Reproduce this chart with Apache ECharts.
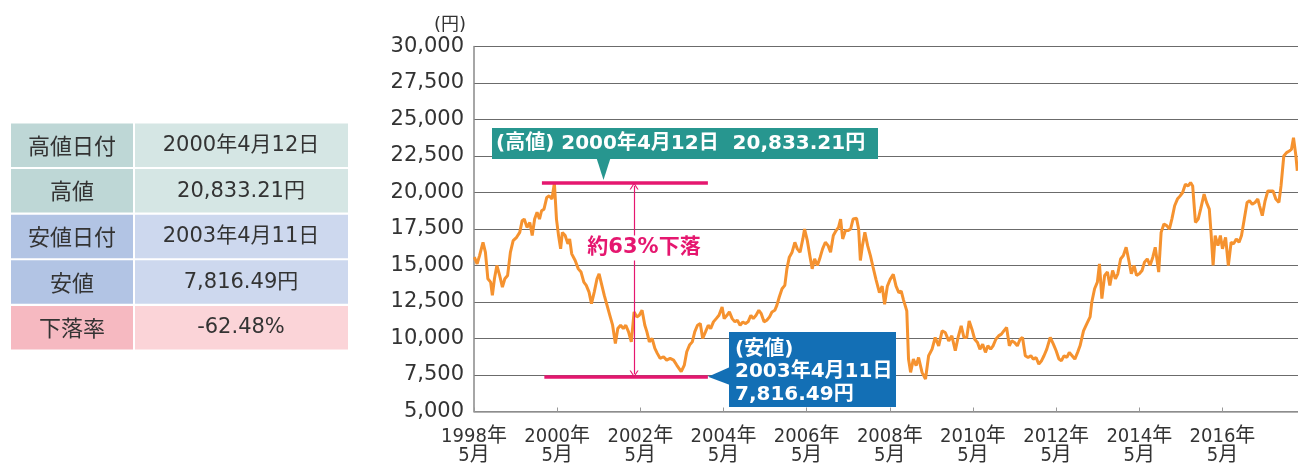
<!DOCTYPE html>
<html>
<head>
<meta charset="utf-8">
<script src="https://cdn.jsdelivr.net/npm/echarts@6/dist/echarts.min.js"></script>
<style>
  html, body { margin: 0; padding: 0; background: #fff; }
  #chart { width: 1298px; height: 468px; }
</style>
</head>
<body>
<div id="chart"></div>
<script>
  // x = months since 1998/5
  var months = [
    0.1, 0.9, 1.6, 2.6, 3.3, 4.0, 4.8, 5.3, 5.9, 6.6, 7.4, 8.2, 8.9, 9.7, 10.5, 11.3, 12.3, 13.2, 13.9, 14.5,
    15.3, 16.1, 16.8, 17.5, 18.2, 18.9, 19.5, 20.2, 21.0, 21.7, 22.5, 23.2, 23.8, 24.4, 25.0, 25.5, 26.3, 27.1, 27.6, 28.2,
    29.2, 30.1, 30.9, 31.7, 32.4, 33.2, 33.9, 34.7, 35.5, 36.1, 36.9, 37.6, 38.4, 39.2, 40.0, 40.8, 41.5, 42.3, 43.1, 43.8,
    44.6, 45.4, 46.2, 47.0, 47.7, 48.5, 49.3, 49.9, 50.6, 51.4, 52.2, 52.9, 53.7, 54.7, 55.6, 56.6, 57.6, 58.5, 59.8, 60.7,
    61.4, 62.2, 63.0, 63.7, 64.5, 65.3, 66.0, 66.8, 67.6, 68.3, 69.1, 69.9, 70.7, 71.6, 72.2, 73.0, 73.7, 74.5, 75.3, 76.0,
    76.8, 77.6, 78.3, 79.1, 79.9, 80.6, 81.4, 82.2, 82.9, 83.7, 84.5, 85.3, 86.0, 86.8, 87.4, 88.1, 88.9, 89.7, 90.3, 91.0,
    91.8, 92.6, 93.3, 94.1, 94.9, 95.4, 96.2, 97.0, 97.6, 98.3, 99.1, 99.9, 100.6, 101.4, 102.2, 102.9, 103.7, 104.5, 105.2, 105.8,
    106.4, 107.2, 107.9, 108.7, 109.4, 110.4, 111.0, 111.5, 112.1, 112.8, 113.6, 114.4, 115.1, 116.0, 117.0, 117.8, 118.5, 119.3, 120.1, 121.0,
    121.8, 122.6, 123.3, 123.9, 124.9, 125.4, 126.0, 126.8, 127.6, 128.3, 129.3, 130.3, 131.2, 132.2, 133.1, 134.1, 135.1, 136.0, 137.0, 137.9,
    138.9, 139.7, 140.6, 141.4, 142.2, 142.9, 143.7, 144.5, 145.3, 146.0, 146.8, 147.6, 148.3, 149.1, 149.8, 150.6, 151.4, 152.2, 152.9, 153.7,
    154.5, 155.2, 156.0, 156.8, 157.6, 158.3, 159.1, 159.9, 160.7, 161.4, 162.2, 163.0, 163.8, 164.5, 165.3, 166.3, 167.2, 168.0, 168.8, 169.5,
    170.3, 171.1, 171.8, 172.6, 173.4, 174.2, 174.9, 175.9, 176.8, 177.8, 178.3, 179.1, 179.9, 180.5, 181.2, 182.0, 182.8, 183.5, 184.3, 185.1,
    185.8, 186.6, 187.4, 188.2, 188.9, 189.7, 190.5, 191.2, 192.0, 192.8, 193.5, 194.3, 195.1, 195.9, 196.6, 197.6, 198.3, 199.1, 199.9, 200.7,
    201.4, 202.2, 203.0, 203.8, 204.5, 205.3, 206.1, 206.8, 207.4, 208.2, 209.0, 209.7, 210.7, 211.4, 212.2, 212.7, 213.3, 213.9, 214.7, 215.4,
    216.0, 216.9, 217.7, 218.5, 219.2, 220.0, 220.8, 221.5, 222.3, 223.1, 223.8, 224.6, 225.4, 226.2, 226.7, 227.5, 228.3, 229.1, 229.8, 230.6,
    231.4, 232.3, 232.9, 233.7, 234.5, 235.3, 235.9, 236.5, 236.8, 237.2, 237.6
  ]
  var prices = [
    15570, 15110, 15680, 16590, 15900, 14090, 13860, 12950, 14090, 15000, 14320, 13520, 14090, 14320, 15900, 16700, 16930, 17270, 18070, 18180,
    17610, 17950, 17050, 18180, 18640, 18180, 18750, 18860, 19660, 19770, 19550, 20650, 18180, 17050, 16140, 17270, 17050, 16480, 16820, 15800,
    15340, 14770, 14550, 13860, 13640, 13180, 12390, 13180, 14090, 14430, 13640, 12950, 12270, 11590, 10910, 9660, 10680, 10910, 10680, 10910,
    10450, 9770, 11820, 11480, 11590, 11930, 10910, 10450, 9770, 10000, 9320, 8980, 8640, 8750, 8520, 8640, 8520, 8180, 7730, 8180,
    9090, 9550, 9770, 10450, 10910, 11020, 10000, 10450, 10910, 10680, 11140, 11360, 11590, 12160, 11360, 11590, 11820, 11360, 11140, 11250,
    10910, 11140, 11020, 11140, 11590, 11360, 11590, 11930, 11700, 11140, 11250, 11480, 11820, 11930, 12270, 12840, 13410, 13640, 14770, 15570,
    15910, 16590, 16140, 15910, 16820, 17500, 16700, 15570, 14770, 15450, 15000, 15570, 16140, 16590, 16360, 15910, 17050, 17390, 17610, 18180,
    16820, 17390, 17390, 17500, 18180, 18230, 17500, 15340, 16360, 17270, 16360, 15680, 14950, 14050, 13140, 13590, 12340, 13590, 14050, 14390,
    13590, 13140, 13250, 12680, 11890, 8590, 7680, 8590, 8140, 8700, 7680, 7230, 8820, 9270, 10070, 9500, 10520, 10410, 9840, 10180,
    9160, 10070, 10860, 10070, 10070, 11200, 10640, 9950, 9730, 9270, 9610, 9050, 9500, 9270, 9500, 9950, 10180, 10300, 10520, 10750,
    9500, 9840, 9730, 9500, 9950, 10070, 8820, 8700, 8820, 8590, 8700, 8250, 8480, 8820, 9270, 10070, 9610, 9160, 8590, 8480,
    8820, 8700, 9050, 8820, 8590, 9050, 9500, 10520, 10980, 11480, 12500, 13410, 13860, 15110, 12730, 14320, 14550, 13640, 14660, 14090,
    14430, 15450, 15680, 16250, 15450, 14430, 15000, 14320, 14430, 14660, 15230, 15450, 15000, 15570, 16250, 14550, 17270, 17840, 17730, 17500,
    18180, 19090, 19550, 19770, 20000, 20570, 20450, 20680, 20450, 17950, 18180, 18860, 19890, 19320, 18860, 17270, 15000, 17050, 16360, 17050,
    16140, 16930, 15000, 16590, 16480, 16820, 16590, 17050, 18180, 19320, 19430, 19200, 19320, 19550, 19090, 18410, 19430, 20110, 20110, 20110,
    19550, 19320, 20450, 22500, 22730, 22840, 22950, 23750, 23640, 22500, 21480
  ]
  var xTickLabels = ['1998年\n5月', '2000年\n5月', '2002年\n5月', '2004年\n5月', '2006年\n5月',
    '2008年\n5月', '2010年\n5月', '2012年\n5月', '2014年\n5月', '2016年\n5月']

  // annotation values (high / low bars and the arrow between them)
  var highBar = { from: 19.6, to: 67.5, value: 20650 }
  var lowBar = { from: 20.3, to: 67.5, value: 7384 }
  var arrowAt = { x: 46.2, top: 20445, bottom: 7568 }

  // left table
  var tableLabels = ['高値日付', '高値', '安値日付', '安値', '下落率']
  var tableValues = ['2000年4月12日', '20,833.21円', '2003年4月11日', '7,816.49円', '-62.48%']

  var CJK = '"Noto Sans CJK JP"'
  var FONT = '"DejaVu Sans", ' + CJK + ', sans-serif'
  var PINK = '#e5176f'
  var rowColors = [
    ['#bed7d6', '#d5e6e4'],
    ['#bed7d6', '#d5e6e4'],
    ['#b2c4e4', '#cdd8ee'],
    ['#b2c4e4', '#cdd8ee'],
    ['#f6b9c1', '#fbd4d8']
  ]

  var seriesData = months.map(function (m, i) { return [m, prices[i]] })

  var graphics = []
  tableLabels.forEach(function (lab, i) {
    var top = 123.5 + i * 45.6
    graphics.push({ type: 'rect', z: 100, shape: { x: 11, y: top, width: 122, height: 43.5 }, style: { fill: rowColors[i][0] } })
    graphics.push({ type: 'rect', z: 100, shape: { x: 135, y: top, width: 213, height: 43.5 }, style: { fill: rowColors[i][1] } })
    graphics.push({ type: 'text', z: 101, x: 72, y: top + 22, style: { text: lab, fill: '#333', font: '22px ' + CJK, align: 'center', verticalAlign: 'middle' } })
    graphics.push({ type: 'text', z: 101, x: 241, y: top + 22, style: { text: tableValues[i], fill: '#333', font: '21px ' + FONT, align: 'center', verticalAlign: 'middle' } })
  })

  // high callout
  graphics.push({ type: 'rect', z: 100, shape: { x: 492, y: 128, width: 386, height: 31 }, style: { fill: '#27968f' } })
  graphics.push({ type: 'polygon', z: 100, shape: { points: [[596.5, 158], [610.5, 158], [603.5, 180]] }, style: { fill: '#27968f' } })
  graphics.push({ type: 'text', z: 101, x: 496, y: 143.5, style: { text: '(高値) 2000年4月12日  20,833.21円', fill: '#fff', font: 'bold 20px ' + FONT, verticalAlign: 'middle' } })

  // low callout
  graphics.push({ type: 'rect', z: 100, shape: { x: 729, y: 332, width: 167, height: 75 }, style: { fill: '#136fb5' } })
  graphics.push({ type: 'polygon', z: 100, shape: { points: [[730, 367], [730, 385], [708, 376.7]] }, style: { fill: '#136fb5' } })
  graphics.push({ type: 'text', z: 101, x: 735, y: 338.5, style: { text: '(安値)\n2003年4月11日\n7,816.49円', fill: '#fff', font: 'bold 20px ' + FONT, lineHeight: 22.5, verticalAlign: 'top' } })

  // drop label
  graphics.push({ type: 'text', z: 101, x: 644, y: 248, style: { text: '約63%下落', fill: PINK, font: 'bold 21px ' + FONT, align: 'center', verticalAlign: 'middle', backgroundColor: '#fff', padding: [2, 2] } })

  var chevron = 'path://M0,10 L5,0 L10,10 L8.6,10 L5,2.8 L1.4,10 Z'

  var option = {
    animation: false,
    textStyle: { fontFamily: FONT },
    grid: { left: 474, right: 0, top: 46.5, bottom: 56.5 },
    xAxis: {
      type: 'value',
      min: 0,
      max: 237.8,
      interval: 24,
      splitLine: { show: false },
      axisLine: { lineStyle: { color: '#999', width: 1.5 } },
      axisTick: { show: true, inside: true, length: 4, lineStyle: { color: '#999' } },
      axisLabel: {
        color: '#333',
        fontFamily: '"DejaVu Sans Condensed", ' + CJK + ', sans-serif',
        fontSize: 20,
        lineHeight: 19,
        margin: 16,
        showMaxLabel: false,
        formatter: function (v) {
          return v % 24 === 0 ? xTickLabels[v / 24] : ''
        }
      }
    },
    yAxis: {
      type: 'value',
      min: 5000,
      max: 30000,
      interval: 2500,
      name: '(円)',
      nameGap: 12,
      nameTextStyle: { color: '#333', fontSize: 18, align: 'right', padding: [0, 8, 0, 0] },
      axisLine: { show: true, lineStyle: { color: '#888', width: 1.5 } },
      axisTick: { show: false },
      splitLine: { lineStyle: { color: '#6b6b6b', width: 1 } },
      axisLabel: {
        color: '#333',
        fontSize: 21,
        margin: 10,
        formatter: function (v) { return String(v).replace(/\B(?=(\d{3})+(?!\d))/g, ',') }
      }
    },
    series: [
      {
        name: '日経平均',
        type: 'line',
        data: seriesData,
        symbol: 'none',
        smooth: false,
        lineStyle: { color: '#f5922f', width: 3 },
        z: 3,
        markLine: {
          silent: true,
          symbol: 'none',
          animation: false,
          label: { show: false },
          lineStyle: { color: PINK, width: 3.5, type: 'solid' },
          data: [
            [{ coord: [highBar.from, highBar.value] }, { coord: [highBar.to, highBar.value] }],
            [{ coord: [lowBar.from, lowBar.value] }, { coord: [lowBar.to, lowBar.value] }],
            [
              { coord: [arrowAt.x, arrowAt.top], symbol: chevron, symbolSize: [9, 7], lineStyle: { width: 1.2 } },
              { coord: [arrowAt.x, arrowAt.bottom], symbol: chevron, symbolSize: [9, 7] }
            ]
          ]
        }
      }
    ],
    graphic: graphics
  }

  var myChart = echarts.init(document.getElementById('chart'))
  myChart.setOption(option)
</script>
</body>
</html>
